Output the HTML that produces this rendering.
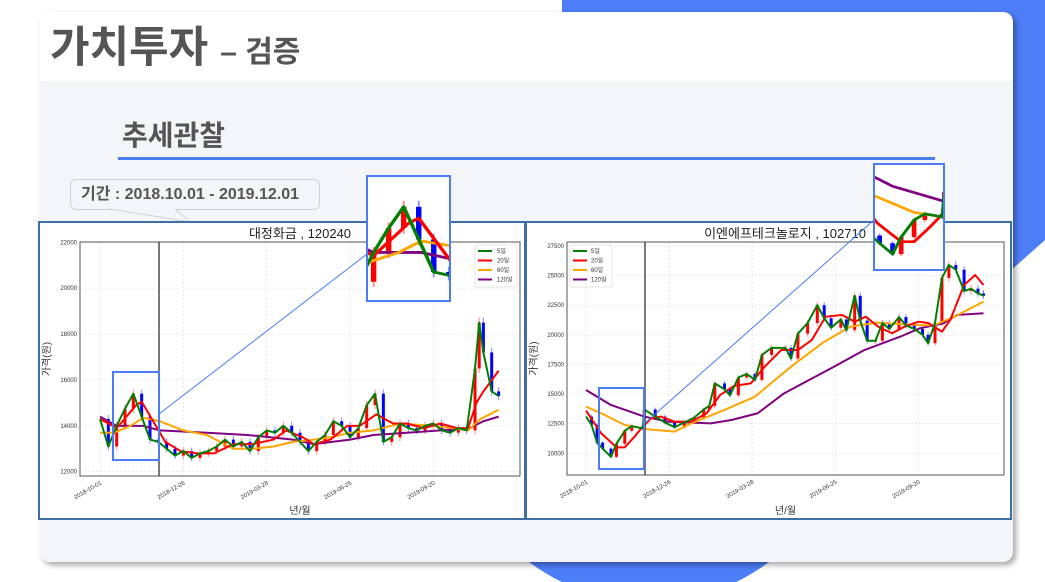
<!DOCTYPE html>
<html><head><meta charset="utf-8">
<style>
html,body{margin:0;padding:0;width:1045px;height:582px;overflow:hidden;background:#fff;font-family:"Liberation Sans","Noto Sans CJK KR",sans-serif;}
.abs{position:absolute;}
</style></head>
<body>
<svg class="abs" style="left:0;top:0" width="1045" height="582">
<polygon points="562,0 1045,0 1045,240 1000,280 562,280" fill="#4d7ef7"/>
<circle cx="649" cy="402" r="200" fill="#4d7ef7"/>
</svg>
<div class="abs" style="left:40px;top:12px;width:973px;height:550px;border-radius:10px;background:#f4f5f9;box-shadow:3px 3px 6px rgba(0,0,0,.35);overflow:hidden;">
  <div style="position:absolute;left:0;top:0;width:973px;height:69px;background:#fff;"></div>
</div>
<div class="abs" style="left:50px;top:21px;color:#555;font-weight:bold;font-size:43px;line-height:54px;white-space:nowrap;">가치투자 <span style="font-size:30px;">– 검증</span></div>
<div class="abs" style="left:122px;top:117px;color:#555;font-weight:bold;font-size:28px;line-height:38px;">추세관찰</div>
<div class="abs" style="left:118px;top:157px;width:817px;height:3px;background:#4a7cf5;"></div>
<div class="abs" style="left:70px;top:179px;width:248px;height:29px;border:1px solid #d0d0d4;border-radius:6px;background:#f4f5f9;color:#555;font-weight:bold;font-size:16px;line-height:29px;text-indent:10px;white-space:nowrap;">기간 : 2018.10.01 - 2019.12.01</div>
<svg class="abs" style="left:0;top:0" width="1045" height="582">
<polyline points="110,209 190,222 175,209" fill="#f4f5f9" stroke="#d0d0d4" stroke-width="1"/>
<rect x="39" y="222" width="486" height="297" fill="#fff" stroke="#3d6ea5" stroke-width="2"/>
<rect x="526" y="222" width="485" height="297" fill="#fff" stroke="#3d6ea5" stroke-width="2"/>
<g id="root"></g>
</svg>
<script>
// ---- Left chart data: 대정화금 ----
const L_closeIdx = [0,6,12,18,24,30,36,42,48,54,60,66,72,78,84,90,96,102,108,114,120,126,132,138,144,150,156,162,168,174,180,186,192,198,204,210,216,222,228,234,240,246,252,258,264,270,273,276,282,287];
const L_close = [14300,13100,14000,14750,15400,14400,13400,13300,13000,12700,12900,12600,12800,12900,13100,13400,13100,13300,12900,13500,13800,13700,14000,13700,13300,12900,13300,13600,14200,14000,13500,13900,14900,15400,13300,13500,14100,13900,13800,14000,14100,13800,13700,13900,13800,16500,18500,17200,15500,15300];
const L_ma20Idx = [0,12,26,30,47,58,70,82,96,110,125,134,146,154,166,178,187,199,211,221,233,245,257,265,271,276,287];
const L_ma20 = [14300,13900,14900,15050,13300,12900,12800,12800,13200,13200,13400,13800,13500,13200,13400,14000,14000,14500,14100,14100,13900,14100,13900,13900,15000,15500,16400];
const L_ma60Idx = [0,10,22,31,43,60,77,96,110,125,139,154,166,180,197,216,240,254,265,274,287];
const L_ma60 = [13700,13700,14000,14350,14200,13800,13600,13000,13000,13100,13300,13400,13500,13700,13800,14100,14000,13900,13800,14300,14700];
const L_ma120Idx = [0,12,31,43,77,106,139,154,180,197,221,245,266,276,287];
const L_ma120 = [14400,14000,14000,13800,13700,13600,13400,13200,13400,13600,13700,13800,13900,14200,14400];
const L_yTicks = [12000,14000,16000,18000,20000,22000];
// ---- Right chart data: 이엔에프테크놀로지 ----
const R_closeIdx = [0,4,8,12,18,22,28,33,41,42,50,57,64,71,78,85,89,93,100,104,110,116,122,127,134,144,148,153,160,167,172,177,184,188,194,198,203,209,214,219,226,231,237,243,247,252,257,262,267,273,278,283,287];
const R_close = [13100,12400,10900,10400,9700,10800,11900,12300,12100,13700,13100,12600,12200,12600,13000,13700,14000,15900,15400,14900,16400,16700,16200,18300,18900,18900,18000,20100,21000,22500,21400,20600,21300,20400,23300,21200,19500,19500,21000,20500,21500,20800,20500,20000,19300,21000,24800,25900,25500,23700,23900,23500,23300];
const R_ma20Idx = [0,11,22,28,35,41,47,54,64,76,87,97,107,119,129,141,153,163,173,185,194,202,211,221,230,240,247,257,263,273,281,287];
const R_ma20 = [13600,11690,10500,10500,11400,12250,12950,13100,12670,12670,13370,14940,15690,15900,17310,18720,18720,19560,21530,21680,21100,21530,20690,20130,20690,21110,21000,20270,21250,24210,25050,24210];
const R_ma60Idx = [0,11,28,45,64,76,100,122,148,172,191,210,227,241,251,266,287];
const R_ma60 = [13940,13380,12390,12020,11830,12530,13660,14780,17310,19420,20690,21030,20900,20830,20800,21530,22800];
const R_ma120Idx = [0,18,42,59,90,105,124,143,179,201,227,241,258,268,287];
const R_ma120 = [15340,14080,13100,12670,12530,12810,13380,15060,17310,18720,19850,20550,20970,21680,21820];
const R_yTicks = [10000,12500,15000,17500,20000,22500,25000,27500];
const xTickIdx = [0,60,120,180,240];
const xTickLabels = ['2018-10-01','2018-12-26','2019-03-28','2019-06-25','2019-09-20'];
const legendLabels = ['5일','20일','60일','120일'];

const NS='http://www.w3.org/2000/svg';
const root=document.getElementById('root');
function mk(tag,attrs,parent){const e=document.createElementNS(NS,tag);for(const k in attrs)e.setAttribute(k,attrs[k]);(parent||root).appendChild(e);return e;}
function drawChart(c){
  const g=mk('g',{});
  
  
  const xs=i=>c.x0+i*c.px, ys=v=>c.y0-(v-c.v0)*c.py;
  const b=c.box;
  c.yTicks.forEach(v=>{
    const l=mk('line',{x1:b[0],x2:b[2],y1:ys(v),y2:ys(v),stroke:'#ddd','stroke-width':0.7,'stroke-dasharray':'2,2'},g);
    
    
    const t=mk('text',{x:b[0]-3,y:ys(v)+2,'font-size':6,'text-anchor':'end',fill:'#333'},g);
    t.textContent=v;
    
    
  });
  xTickIdx.forEach((i,k)=>{
    const x=xs(i);
    const l=mk('line',{x1:x,x2:x,y1:b[1],y2:b[3],stroke:'#ddd','stroke-width':0.7,'stroke-dasharray':'2,2'},g);
    
    
    const t=mk('text',{x:x+2,y:b[3]+8,'font-size':6,'text-anchor':'end',fill:'#333',transform:`rotate(-30 ${x+2} ${b[3]+8})`},g);
    t.textContent=xTickLabels[k];
    
    
  });
  const fr=mk('rect',{x:b[0],y:b[1],width:b[2]-b[0],height:b[3]-b[1],fill:'none',stroke:'#555','stroke-width':1},g);
  
  
  const sg=mk('g',{id:c.id},g);
  for(let k=1;k<c.cIdx.length;k++){
    const o=c.close[k-1],cl=c.close[k],up=cl>=o,x=xs(c.cIdx[k]);
    const hi=Math.max(o,cl)*1.012, lo=Math.min(o,cl)*0.988;
    const w=mk('line',{x1:x,x2:x,y1:ys(hi),y2:ys(lo),stroke:up?'#f88':'#88f','stroke-width':1},sg);
    
    
    const r=mk('rect',{x:x-1.5,y:ys(Math.max(o,cl)),width:3,height:Math.max(1,Math.abs(ys(o)-ys(cl))),fill:up?'#f00':'#00f'},sg);
    
    
  }
  const series=[[c.m120i,c.m120,'#800080','ma120-line'],[c.m60i,c.m60,'#ffa500','ma60-line'],[c.m20i,c.m20,'#f00','ma20-line'],[c.cIdx,c.close,'#008000','ma5-line']];
  series.forEach(s=>{
    const p=mk('polyline',{points:s[0].map((i,k)=>xs(i)+','+ys(s[1][k])).join(' '),fill:'none',stroke:s[2],'stroke-width':2,'stroke-linejoin':'round'},sg);
    
    
  });
  const vl=mk('line',{x1:xs(c.vline),x2:xs(c.vline),y1:b[1],y2:b[3],stroke:'#222','stroke-width':1.2},g);
  
  
  const t=mk('text',{x:c.tx,y:238,'font-size':13,'text-anchor':'middle',fill:'#222'},g);
  t.textContent=c.title;
  
  
  const yl=mk('text',{x:c.ylx,y:(b[1]+b[3])/2,'font-size':10,'text-anchor':'middle',fill:'#333',transform:`rotate(-90 ${c.ylx} ${(b[1]+b[3])/2})`},g);
  yl.textContent='가격(원)';
  
  
  const xl=mk('text',{x:(b[0]+b[2])/2,y:514,'font-size':10,'text-anchor':'middle',fill:'#333'},g);
  xl.textContent='년/월';
  
  
  const lg=mk('g',{},g);
  
  
  mk('rect',{x:c.lg[0],y:c.lg[1],width:42,height:42,fill:'#fff',stroke:'#ddd','stroke-width':0.7,rx:1.5},lg);
  ['#008000','#f00','#ffa500','#800080'].forEach((col,k)=>{
    const y=c.lg[1]+6+k*9.5;
    const ln=mk('line',{x1:c.lg[0]+3,x2:c.lg[0]+17,y1:y,y2:y,stroke:col,'stroke-width':2},lg);
    
    
    const tt=mk('text',{x:c.lg[0]+c.lgt,y:y+2,'font-size':6,fill:'#333'},lg);
    tt.textContent=legendLabels[k];
    
    
  });
  const s=c.sb, ib=c.ib;
  const ar=mk('line',{x1:s[2],y1:c.ay,x2:ib[0],y2:c.ay2,stroke:'#4a7cf5','stroke-width':1},g);
  
  
  const sbr=mk('rect',{x:s[0],y:s[1],width:s[2]-s[0],height:s[3]-s[1],fill:'none',stroke:'#4a7cf5','stroke-width':2},g);
  
  
  const cp=mk('clipPath',{id:c.id+'clip'},g);
  mk('rect',{x:ib[0],y:ib[1],width:ib[2]-ib[0],height:ib[3]-ib[1]},cp);
  const ig=mk('g',{'clip-path':`url(#${c.id}clip)`},g);
  
  
  mk('rect',{x:ib[0],y:ib[1],width:ib[2]-ib[0],height:ib[3]-ib[1],fill:'#fff'},ig);
  const sx=(ib[2]-ib[0])/(s[2]-s[0]),sy=(ib[3]-ib[1])/(s[3]-s[1]);
  mk('use',{href:'#'+c.id,transform:`translate(${ib[0]-s[0]*sx},${ib[1]-s[1]*sy}) scale(${sx},${sy})`},ig);
  const ibr=mk('rect',{x:ib[0],y:ib[1],width:ib[2]-ib[0],height:ib[3]-ib[1],fill:'none',stroke:'#4a7cf5','stroke-width':2},g);
  
  
}
drawChart({name:'left-chart',id:'serL',x0:100,px:1.389,y0:471.7,v0:12000,py:0.02294,box:[80,242,520,476],
  yTicks:L_yTicks,cIdx:L_closeIdx,close:L_close,m20i:L_ma20Idx,m20:L_ma20,m60i:L_ma60Idx,m60:L_ma60,m120i:L_ma120Idx,m120:L_ma120,
  vline:42.5,title:'대정화금 , 120240',tx:300,ylx:50,lg:[475,245],lgt:22,sb:[113,372,159,460],ib:[367,176,450,301],ay:414,ay2:254});
drawChart({name:'right-chart',id:'serR',x0:586,px:1.385,y0:453.3,v0:10000,py:0.011846,box:[567,242,1004,475],
  yTicks:R_yTicks,cIdx:R_closeIdx,close:R_close,m20i:R_ma20Idx,m20:R_ma20,m60i:R_ma60Idx,m60:R_ma60,m120i:R_ma120Idx,m120:R_ma120,
  vline:42.6,title:'이엔에프테크놀로지 , 102710',tx:785,ylx:537,lg:[570,245],lgt:21,sb:[599,388,644,469],ib:[874,164,944,270],ay:424,ay2:220});
</script>
</body></html>
